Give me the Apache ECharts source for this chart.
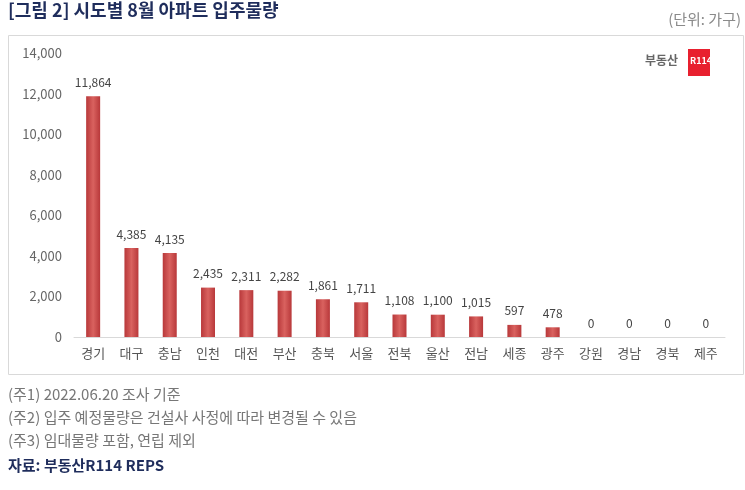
<!DOCTYPE html><html><head><meta charset="utf-8"><script src="https://cdn.jsdelivr.net/npm/echarts@6/dist/echarts.min.js"></script>
<style>body{margin:0;background:#fff}#c{width:745px;height:490px}</style></head><body><div id="c"></div><script>
const categories=['경기','대구','충남','인천','대전','부산','충북','서울','전북','울산','전남','세종','광주','강원','경남','경북','제주'];
const values=[11864,4385,4135,2435,2311,2282,1861,1711,1108,1100,1015,597,478,0,0,0,0];
const notes=['(주1) 2022.06.20 조사 기준','(주2) 입주 예정물량은 건설사 사정에 따라 변경될 수 있음','(주3) 임대물량 포함, 연립 제외'];
const F='"Noto Sans CJK KR","Noto Sans",sans-serif';
const c=echarts.init(document.getElementById('c'));
c.setOption({animation:false,
graphic:[
{type:'text',left:8,top:1,style:{text:'[그림 2] 시도별 8월 아파트 입주물량',font:'bold 18px '+F,fill:'#1f2d5c'}},
{type:'text',right:4,top:12,style:{text:'(단위: 가구)',font:'15px '+F,fill:'#8a8a8a'}},
{type:'rect',shape:{x:8.5,y:35.5,width:735,height:339},style:{fill:'none',stroke:'#d9d9d9',lineWidth:1}},
{type:'text',left:645,top:54,style:{text:'부동산',font:'bold 12px '+F,fill:'#666'}},
{type:'rect',shape:{x:688,y:49,width:22,height:27},style:{fill:'#e8202f'}},
{type:'text',left:690,top:56,style:{text:'R114',font:'bold 9px '+F,fill:'#fff'}},
...notes.map((t,i)=>({type:'text',left:8,top:387+i*23,style:{text:t,font:'15px '+F,fill:'#777'}})),
{type:'text',left:8,top:458,style:{text:'자료: 부동산R114 REPS',font:'bold 15px '+F,fill:'#1f2d5c'}}
],
grid:{left:74,right:20,top:53,bottom:153},
xAxis:{type:'category',data:categories,axisTick:{show:false},axisLine:{lineStyle:{color:'#d9d9d9'}},axisLabel:{color:'#555',fontSize:13,fontFamily:F,margin:10}},
yAxis:{type:'value',min:0,max:14000,interval:2000,splitLine:{show:false},axisLabel:{color:'#666',fontSize:13,fontFamily:F,margin:12,formatter:v=>v.toLocaleString('en-US')}},
series:[{type:'bar',data:values,barWidth:14,itemStyle:{color:new echarts.graphic.LinearGradient(0,0,1,0,[{offset:0,color:'#b8383a'},{offset:0.5,color:'#d9625f'},{offset:1,color:'#b8383a'}])},
label:{show:true,position:'top',color:'#444',fontSize:12,fontFamily:F,distance:8,formatter:p=>p.value.toLocaleString('en-US')}}]
});
</script></body></html>
